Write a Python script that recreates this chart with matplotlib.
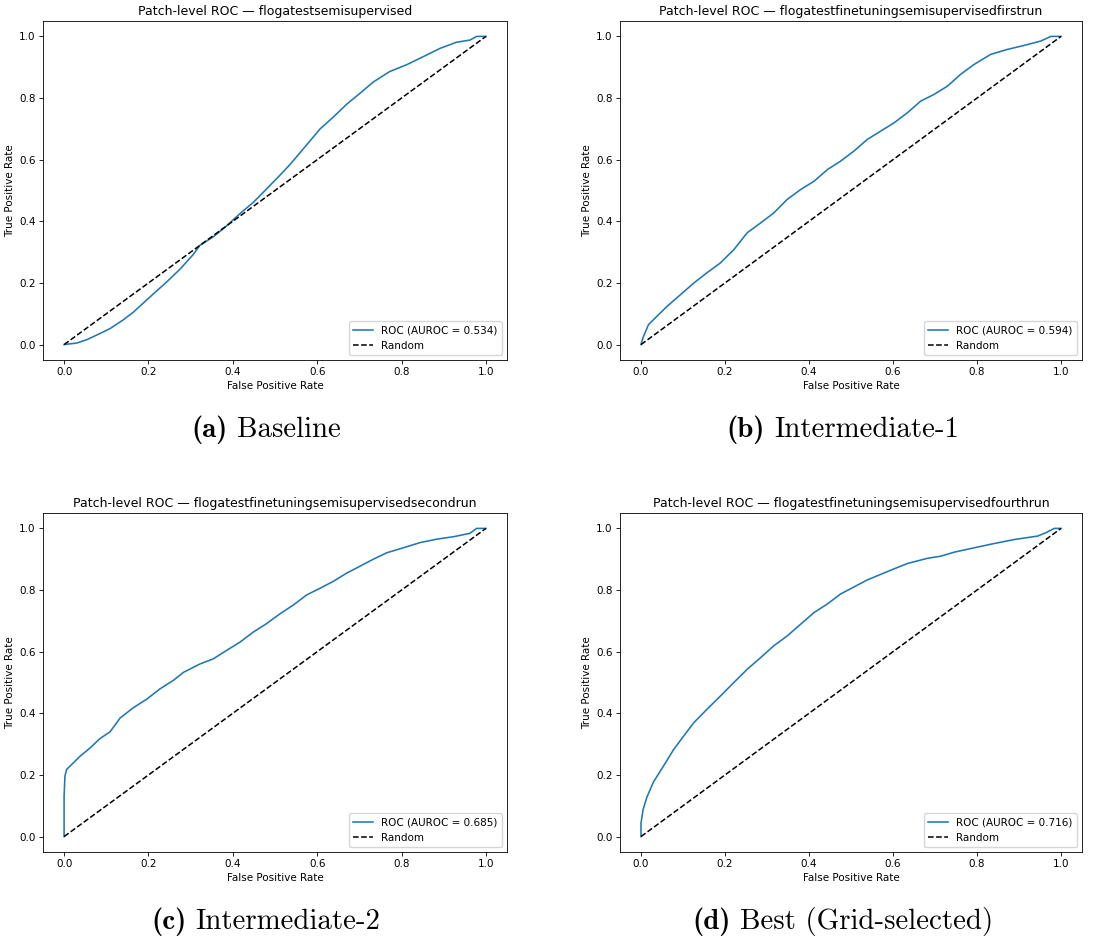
import matplotlib
matplotlib.use("Agg")
import matplotlib.pyplot as plt
from matplotlib.offsetbox import TextArea, HPacker, AnnotationBbox

# ROC points per run (false positive rate, true positive rate)
fpr_baseline = [0.0, 0.03, 0.054, 0.085, 0.109, 0.14, 0.164, 0.188, 0.212, 0.243, 0.275,
                0.306, 0.322, 0.354, 0.385, 0.417, 0.449, 0.48, 0.512, 0.536, 0.567, 0.607,
                0.638, 0.67, 0.701, 0.733, 0.772, 0.812, 0.851, 0.891, 0.93, 0.962, 0.978, 1.0]
tpr_baseline = [0.0, 0.005, 0.016, 0.036, 0.052, 0.08, 0.105, 0.135, 0.165, 0.203, 0.245,
                0.292, 0.322, 0.35, 0.385, 0.425, 0.462, 0.505, 0.55, 0.585, 0.635, 0.7,
                0.738, 0.78, 0.815, 0.852, 0.886, 0.908, 0.934, 0.961, 0.981, 0.988, 1.0, 1.0]

fpr_first = [0.0, 0.006, 0.018, 0.038, 0.062, 0.094, 0.126, 0.157, 0.189, 0.221, 0.253,
             0.285, 0.316, 0.348, 0.38, 0.412, 0.444, 0.475, 0.507, 0.539, 0.571, 0.603,
             0.634, 0.666, 0.698, 0.73, 0.761, 0.793, 0.833, 0.873, 0.913, 0.952, 0.976, 1.0]
tpr_first = [0.0, 0.027, 0.065, 0.092, 0.124, 0.162, 0.2, 0.233, 0.265, 0.308, 0.363,
             0.395, 0.427, 0.471, 0.503, 0.53, 0.568, 0.595, 0.628, 0.666, 0.693, 0.72,
             0.752, 0.79, 0.812, 0.839, 0.877, 0.909, 0.942, 0.958, 0.971, 0.985, 1.0, 1.0]

fpr_second = [0.0, 0.0, 0.002, 0.006, 0.018, 0.038, 0.062, 0.085, 0.109, 0.133, 0.164,
              0.196, 0.227, 0.259, 0.283, 0.322, 0.354, 0.385, 0.417, 0.449, 0.48, 0.512,
              0.543, 0.575, 0.607, 0.638, 0.67, 0.701, 0.733, 0.765, 0.804, 0.844, 0.883,
              0.923, 0.962, 0.978, 1.0]
tpr_second = [0.0, 0.131, 0.196, 0.218, 0.234, 0.261, 0.288, 0.318, 0.34, 0.385, 0.418,
              0.446, 0.479, 0.507, 0.533, 0.56, 0.577, 0.604, 0.631, 0.664, 0.691, 0.723,
              0.751, 0.784, 0.806, 0.828, 0.855, 0.877, 0.9, 0.921, 0.937, 0.954, 0.965,
              0.973, 0.984, 1.0, 1.0]

fpr_fourth = [0.0, 0.0, 0.005, 0.014, 0.03, 0.054, 0.078, 0.102, 0.126, 0.157, 0.189,
              0.221, 0.253, 0.285, 0.316, 0.348, 0.38, 0.412, 0.444, 0.475, 0.507, 0.539,
              0.571, 0.603, 0.634, 0.682, 0.714, 0.746, 0.793, 0.841, 0.889, 0.944, 0.964,
              0.984, 1.0]
tpr_fourth = [0.0, 0.044, 0.088, 0.128, 0.178, 0.23, 0.283, 0.327, 0.37, 0.413, 0.456,
              0.5, 0.543, 0.581, 0.619, 0.651, 0.689, 0.727, 0.755, 0.787, 0.81, 0.833,
              0.851, 0.869, 0.886, 0.903, 0.91, 0.923, 0.937, 0.951, 0.964, 0.975, 0.986,
              1.0, 1.0]

run_names = ["flogatestsemisupervised",
             "flogatestfinetuningsemisupervisedfirstrun",
             "flogatestfinetuningsemisupervisedsecondrun",
             "flogatestfinetuningsemisupervisedfourthrun"]
aurocs = [0.534, 0.594, 0.685, 0.716]
panel_tags = ["(a)", "(b)", "(c)", "(d)"]
captions = ["Baseline", "Intermediate-1", "Intermediate-2", "Best (Grid-selected)"]

curves = [(fpr_baseline, tpr_baseline), (fpr_first, tpr_first),
          (fpr_second, tpr_second), (fpr_fourth, tpr_fourth)]

W, H = 1104, 942
fig = plt.figure(figsize=(W / 100, H / 100), dpi=100)

# axes boxes in pixels: left, top, width, height
boxes = [(43, 21, 464, 339), (620, 21, 462, 339),
         (43, 513, 464, 339), (620, 513, 462, 339)]
caption_pos = [(266, 430), (843, 430), (266, 922), (843, 922)]

for i in range(4):
    l, t, w, h = boxes[i]
    ax = fig.add_axes([l / W, 1 - (t + h) / H, w / W, h / H])
    fpr, tpr = curves[i]
    ax.plot(fpr, tpr, color='#1f77b4', lw=1.15,
            label='ROC (AUROC = {0:.3f})'.format(aurocs[i]))
    ax.plot([0, 1], [0, 1], 'k--', lw=1.1, label='Random')
    ax.set_xlabel('False Positive Rate', fontsize=7.5, labelpad=3)
    ax.set_ylabel('True Positive Rate', fontsize=7.5, labelpad=3)
    ax.set_title('Patch-level ROC \u2014 ' + run_names[i], fontsize=9, pad=4.5)
    ax.tick_params(labelsize=7.5, length=2.6, width=0.6, pad=2.6)
    for s in ax.spines.values():
        s.set_linewidth(0.6)
    ax.legend(loc='lower right', fontsize=7.5, handlelength=1.9)

    # subfigure caption: bold tag + roman text
    tag = TextArea(panel_tags[i], textprops=dict(family='cmb10', size=20.8))
    txt = TextArea(captions[i], textprops=dict(family='cmr10', size=20.8))
    pack = HPacker(children=[tag, txt], sep=6.5, pad=0, align='baseline')
    cx, cy = caption_pos[i]
    ab = AnnotationBbox(pack, (cx / W, 1 - cy / H), xycoords='figure fraction',
                        frameon=False, box_alignment=(0.5, 0.5), pad=0)
    fig.add_artist(ab)

fig.savefig('out.png', dpi=100)
